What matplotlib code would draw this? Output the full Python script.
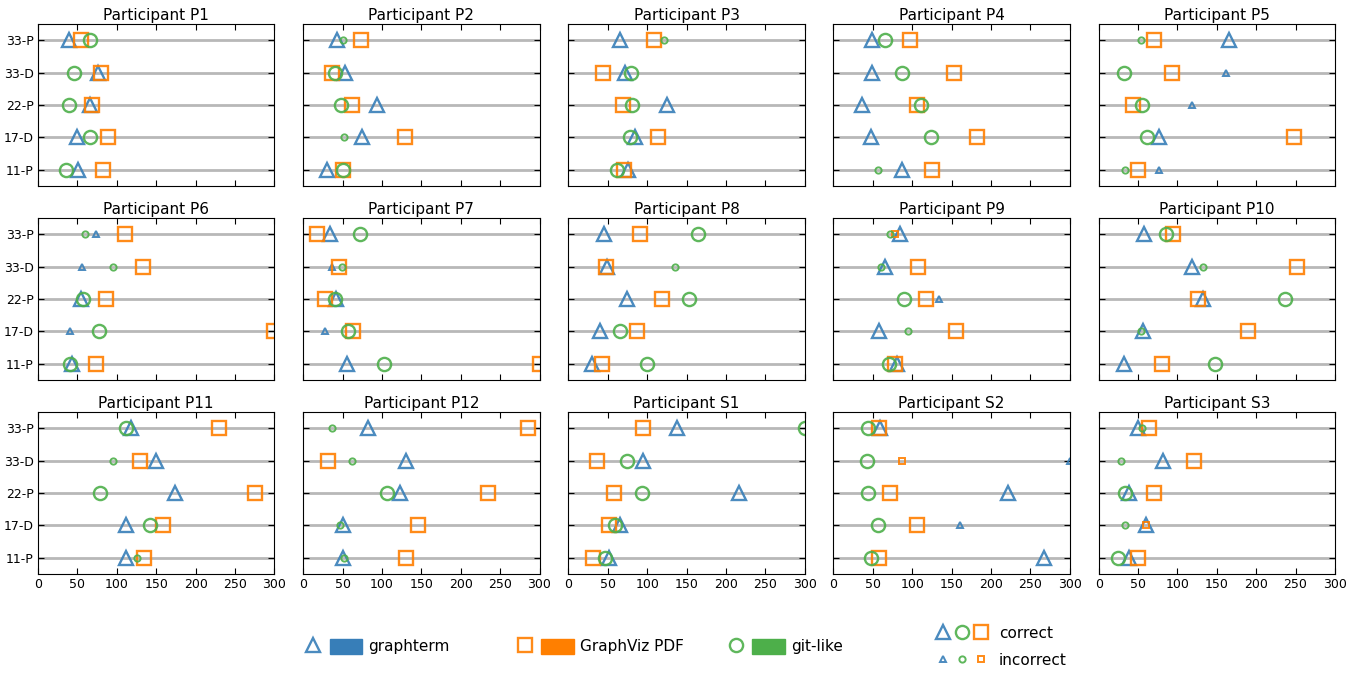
import numpy as np
import matplotlib
matplotlib.use("Agg")
import matplotlib.pyplot as plt
from matplotlib.lines import Line2D
from matplotlib.patches import Patch
from matplotlib.legend_handler import HandlerTuple

# tasks from bottom to top
tasks = ["11-P", "17-D", "22-P", "33-D", "33-P"]
participants = ["P1", "P2", "P3", "P4", "P5", "P6", "P7", "P8", "P9", "P10",
                "P11", "P12", "S1", "S2", "S3"]

# completion times (s), one row per participant, columns follow `tasks`
graphterm = [
    [51, 49, 66, 76, 39], [30, 75, 94, 53, 43], [76, 84, 125, 72, 65],
    [87, 48, 36, 49, 49], [77, 77, 119, 162, 166], [43, 41, 54, 56, 73],
    [56, 28, 42, 36, 34], [30, 40, 74, 49, 45], [81, 58, 134, 66, 85],
    [32, 56, 132, 119, 57], [112, 112, 174, 150, 118], [51, 51, 123, 131, 82],
    [52, 66, 217, 95, 138], [267, 160, 222, 300, 59], [38, 60, 38, 82, 50],
]
graphviz = [
    [82, 89, 68, 80, 55], [51, 129, 62, 37, 73], [71, 114, 69, 44, 109],
    [125, 182, 106, 153, 97], [50, 248, 43, 93, 70], [74, 300, 86, 133, 110],
    [300, 63, 28, 45, 18], [43, 87, 119, 48, 91], [78, 156, 117, 107, 78],
    [81, 189, 126, 252, 95], [135, 158, 276, 129, 230], [131, 146, 235, 31, 285],
    [31, 52, 58, 36, 95], [58, 106, 72, 87, 58], [50, 60, 70, 121, 64],
]
gitlike = [
    [36, 66, 39, 46, 66], [50, 52, 48, 40, 50], [62, 78, 81, 79, 122],
    [57, 124, 111, 87, 65], [34, 61, 55, 32, 54], [40, 78, 57, 95, 60],
    [102, 57, 40, 49, 72], [100, 66, 153, 136, 165], [70, 94, 89, 60, 72],
    [148, 54, 237, 132, 86], [125, 142, 79, 95, 112], [52, 47, 106, 62, 37],
    [47, 59, 94, 74, 300], [47, 56, 44, 42, 44], [24, 34, 34, 29, 55],
]

# 1 = correct answer, 0 = incorrect
graphterm_ok = [
    [1, 1, 1, 1, 1], [1, 1, 1, 1, 1], [1, 1, 1, 1, 1], [1, 1, 1, 1, 1],
    [0, 1, 0, 0, 1], [1, 0, 1, 0, 0], [1, 0, 1, 0, 1], [1, 1, 1, 1, 1],
    [1, 1, 0, 1, 1], [1, 1, 1, 1, 1], [1, 1, 1, 1, 1], [1, 1, 1, 1, 1],
    [1, 1, 1, 1, 1], [1, 0, 1, 0, 1], [1, 1, 1, 1, 1],
]
graphviz_ok = [
    [1, 1, 1, 1, 1], [1, 1, 1, 1, 1], [1, 1, 1, 1, 1], [1, 1, 1, 1, 1],
    [1, 1, 1, 1, 1], [1, 1, 1, 1, 1], [1, 1, 1, 1, 1], [1, 1, 1, 1, 1],
    [1, 1, 1, 1, 0], [1, 1, 1, 1, 1], [1, 1, 1, 1, 1], [1, 1, 1, 1, 1],
    [1, 1, 1, 1, 1], [1, 1, 1, 0, 1], [1, 0, 1, 1, 1],
]
gitlike_ok = [
    [1, 1, 1, 1, 1], [1, 0, 1, 1, 0], [1, 1, 1, 1, 0], [0, 1, 1, 1, 1],
    [0, 1, 1, 1, 0], [1, 1, 1, 0, 0], [1, 1, 1, 0, 1], [1, 1, 1, 0, 1],
    [1, 0, 1, 0, 0], [1, 0, 1, 0, 1], [0, 1, 1, 0, 1], [0, 0, 1, 0, 0],
    [1, 1, 1, 1, 1], [1, 1, 1, 1, 1], [1, 0, 1, 0, 0],
]

blue, orange, green = "#377eb8", "#ff7f00", "#4daf4a"
systems = [
    ("graphterm", graphterm, graphterm_ok, "^", blue),
    ("GraphViz PDF", graphviz, graphviz_ok, "s", orange),
    ("git-like", gitlike, gitlike_ok, "o", green),
]
big, small = 9.5, 4.5


def marker_line(marker, color, ms):
    return Line2D([], [], ls="none", marker=marker, ms=ms,
                  mew=1.7 if ms == big else 1.4,
                  mfc="none", mec=color, alpha=0.9)


fig, axes = plt.subplots(3, 5, figsize=(13.64, 6.75), dpi=100,
                         sharex=True, sharey=True)
fig.subplots_adjust(left=0.0279, right=0.9787, top=0.9644, bottom=0.1496,
                    wspace=0.122, hspace=0.198)

for i, ax in enumerate(axes.flat):
    y = np.arange(len(tasks))
    for name, times, ok, marker, color in systems:
        t = np.array(times[i], dtype=float)
        c = np.array(ok[i], dtype=bool)
        ax.plot(t[c], y[c], ls="none", marker=marker, ms=big, mew=1.7,
                mfc="none", mec=color, alpha=0.9)
        ax.plot(t[~c], y[~c], ls="none", marker=marker, ms=small, mew=1.4,
                mfc="none", mec=color, alpha=0.9)
    ax.set_title("Participant " + participants[i], fontsize=11, pad=3)
    ax.set_xlim(0, 300)
    ax.set_ylim(-0.5, 4.5)
    ax.set_xticks(range(0, 301, 50))
    ax.set_yticks(y)
    ax.set_yticklabels(tasks)
    ax.yaxis.grid(True, color="#b8b8b8", lw=2)
    ax.set_axisbelow(True)
    ax.tick_params(direction="in", top=True, right=True, length=4,
                   labelsize=9, pad=3)

# legend: system markers + colour patches
xs = [0.2175, 0.3727, 0.5275]
for (name, _, _, marker, color), x in zip(systems, xs):
    h = (marker_line(marker, color, big), Patch(color=color))
    fig.legend([h], [name], loc="center left", bbox_to_anchor=(x, 0.042),
               frameon=False, fontsize=11, handlelength=4.3, handleheight=1.1,
               handletextpad=0.4, borderpad=0, borderaxespad=0,
               handler_map={tuple: HandlerTuple(ndivide=None, pad=0)})

# correct / incorrect key: triangle, circle, square
key_order = [("^", blue), ("o", green), ("s", orange)]
big_set = tuple(marker_line(m, col, big) for m, col in key_order)
small_set = tuple(marker_line(m, col, small) for m, col in key_order)
fig.legend([big_set, small_set], ["correct", "incorrect"], loc="center left",
           bbox_to_anchor=(0.684, 0.042), frameon=False, fontsize=11,
           handlelength=3.8, handletextpad=0.5, labelspacing=0.8,
           borderpad=0, borderaxespad=0,
           handler_map={tuple: HandlerTuple(ndivide=None, pad=0)})

fig.savefig("out.png", dpi=100)
